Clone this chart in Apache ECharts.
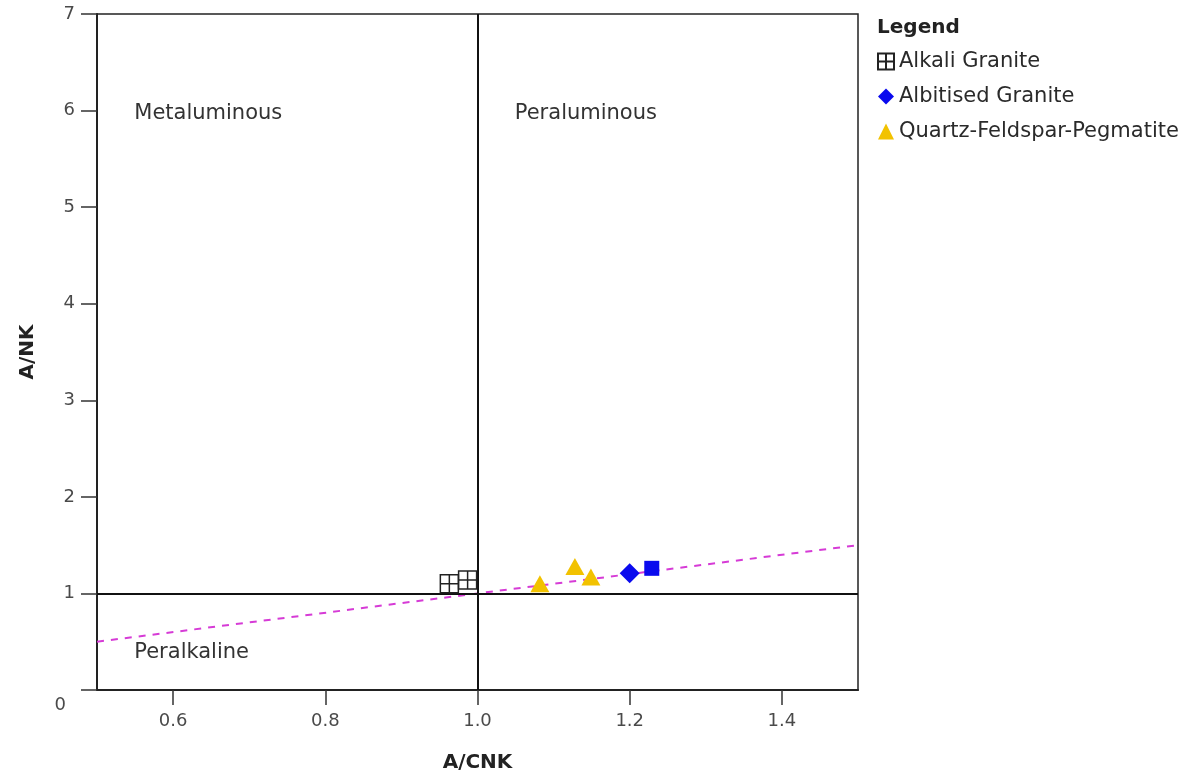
<!DOCTYPE html>
<html><head><meta charset="utf-8">
<script src="https://cdn.jsdelivr.net/npm/echarts@6/dist/echarts.min.js"></script>
<style>html,body{margin:0;padding:0;background:#fff}#c{width:1199px;height:778px}</style>
</head><body><div id="c"></div>
<script>
const xTicks = [0.6, 0.8, 1.0, 1.2, 1.4];
const alkaliGranite = [[0.963, 1.10], [0.987, 1.14]];
const albitisedGranite = [[1.200, 1.21]];
const albitisedSquare = [[1.229, 1.26]];
const pegmatite = [[1.082, 1.10], [1.128, 1.28], [1.149, 1.17]];
const refLine = [[0.5, 0.5], [1.5, 1.5]];
const regionLabels = [[0.549, 5.97, 'Metaluminous'], [1.049, 5.97, 'Peraluminous'], [0.549, 0.39, 'Peralkaline']];

const FONT = '"DejaVu Sans", "Liberation Sans", Arial, sans-serif';
const chart = echarts.init(document.getElementById('c'));
chart.setOption({
  animation: false,
  textStyle: { fontFamily: FONT },
  title: { text: 'Legend', left: 872, top: 13, textStyle: { fontFamily: FONT, fontSize: 20, fontWeight: 'bold', color: '#222' } },
  legend: {
    data: ['Alkali Granite', 'Albitised Granite', 'Quartz-Feldspar-Pegmatite'],
    orient: 'vertical', left: 872, top: 46, itemGap: 14, itemWidth: 16, itemHeight: 16,
    textStyle: { fontFamily: FONT, fontSize: 21, lineHeight: 21, color: '#2a2a2a' }
  },
  grid: { left: 97, right: 341, top: 14, bottom: 88, show: true, borderColor: '#222', borderWidth: 1.5, backgroundColor: 'transparent' },
  xAxis: {
    type: 'value', min: 0.5, max: 1.5,
    name: 'A/CNK', nameLocation: 'middle', nameGap: 63,
    nameTextStyle: { fontFamily: FONT, fontSize: 20, fontWeight: 'bold', color: '#222' },
    axisLine: { lineStyle: { color: '#222', width: 2 } },
    axisTick: { customValues: xTicks, length: 15, lineStyle: { color: '#333', width: 1.5 } },
    axisLabel: { customValues: xTicks, margin: 22, fontSize: 18, color: '#4a4a4a', fontFamily: FONT, formatter: v => v.toFixed(1) },
    splitLine: { show: false }
  },
  yAxis: {
    type: 'value', min: 0, max: 7, interval: 1,
    name: 'A/NK', nameLocation: 'middle', nameGap: 59, nameRotate: 90,
    nameTextStyle: { fontFamily: FONT, fontSize: 20, fontWeight: 'bold', color: '#222' },
    axisLine: { show: true, lineStyle: { color: '#222', width: 2 } },
    axisTick: { show: true, length: 16, lineStyle: { color: '#333', width: 1.5 } },
    axisLabel: {
      margin: 22, fontSize: 18, color: '#4a4a4a', fontFamily: FONT,
      formatter: v => v === 0 ? '{z|0}' : String(v),
      rich: { z: { fontSize: 18, color: '#4a4a4a', fontFamily: FONT, padding: [30, 9, 0, 0] } }
    },
    splitLine: { show: false }
  },
  series: [
    {
      name: 'ref', type: 'line', data: refLine, symbol: 'none', silent: true, z: 1,
      lineStyle: { color: '#D63BD6', width: 2, type: [7, 7] },
      markLine: {
        silent: true, symbol: 'none', label: { show: false },
        lineStyle: { color: '#111', width: 2, type: 'solid' },
        data: [{ xAxis: 1.0 }, { yAxis: 1 }]
      }
    },
    {
      name: 'labels', type: 'scatter', data: regionLabels, symbolSize: 0, silent: true,
      itemStyle: { opacity: 1 },
      label: { show: true, position: 'right', distance: 0, formatter: p => p.data[2], fontSize: 21, color: '#333', fontFamily: FONT }
    },
    {
      name: 'Alkali Granite', type: 'scatter', data: alkaliGranite, z: 5,
      symbol: 'path://M0,0H10V10H0Z M5,0V10 M0,5H10', symbolSize: 18,
      itemStyle: { color: 'rgba(255,255,255,0)', borderColor: '#222', borderWidth: 1.5, opacity: 1 }
    },
    {
      name: 'Albitised Granite', type: 'scatter', data: albitisedGranite, z: 5,
      symbol: 'diamond', symbolSize: [20, 20], itemStyle: { color: '#0A0AEE', opacity: 1 }
    },
    {
      name: 'Albitised Granite', type: 'scatter', data: albitisedSquare, z: 5,
      symbol: 'rect', symbolSize: 15, itemStyle: { color: '#0A0AEE', opacity: 1 }
    },
    {
      name: 'Quartz-Feldspar-Pegmatite', type: 'scatter', data: pegmatite, z: 5,
      symbol: 'triangle', symbolSize: [19, 17], itemStyle: { color: '#F2C200', opacity: 1 }
    }
  ]
});
</script>
</body></html>
